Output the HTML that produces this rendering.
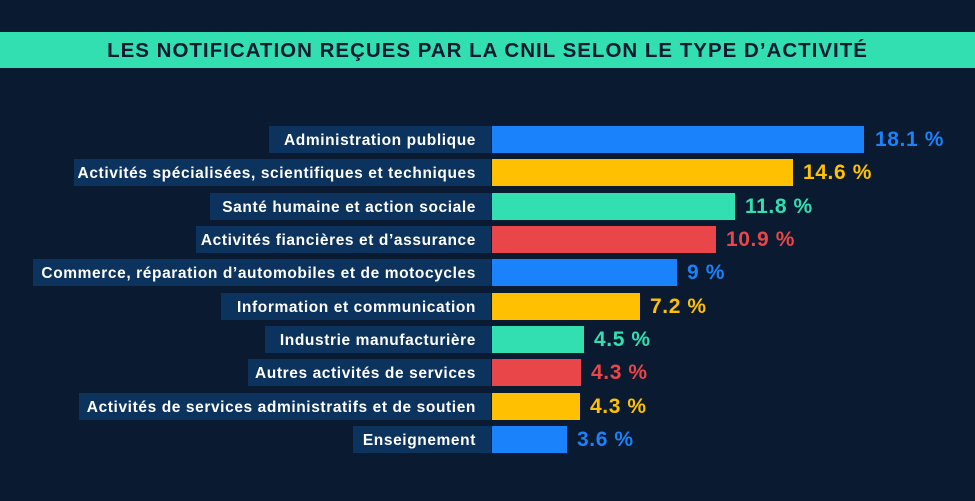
<!DOCTYPE html>
<html><head><meta charset="utf-8"><style>
body{margin:0;width:975px;height:501px;background:#0a1a30;font-family:"Liberation Sans",sans-serif;position:relative;overflow:hidden}
.t{position:absolute;left:0;top:32px;width:975px;height:36px;background:#32dfb0;color:#0a1a30;font-weight:bold;font-size:20.5px;text-align:center;line-height:38px;letter-spacing:1px}
.l{position:absolute;height:27px;background:#0c325e;color:#fff;font-weight:bold;font-size:15.5px;line-height:30px;text-align:right;padding-right:15px;box-sizing:border-box;right:484px;letter-spacing:0.6px;white-space:nowrap}
.b{position:absolute;left:492px;height:27px}
.v{position:absolute;font-weight:bold;font-size:21px;line-height:30px;letter-spacing:0.6px}
</style></head><body>
<div class="t">LES NOTIFICATION REÇUES PAR LA CNIL SELON LE TYPE D’ACTIVITÉ</div>
<div class="l" style="top:126px;left:269px">Administration publique</div><div class="b" style="top:126px;width:372px;background:#1a82fb"></div><div class="v" style="top:125px;left:875px;color:#1a82fb">18.1 %</div>
<div class="l" style="top:159px;left:74px">Activités spécialisées, scientifiques et techniques</div><div class="b" style="top:159px;width:301px;background:#fec000"></div><div class="v" style="top:158px;left:803px;color:#fec000">14.6 %</div>
<div class="l" style="top:193px;left:210px">Santé humaine et action sociale</div><div class="b" style="top:193px;width:243px;background:#32dfb0"></div><div class="v" style="top:192px;left:745px;color:#32dfb0">11.8 %</div>
<div class="l" style="top:226px;left:196px">Activités fiancières et d’assurance</div><div class="b" style="top:226px;width:224px;background:#e84648"></div><div class="v" style="top:225px;left:726px;color:#e84648">10.9 %</div>
<div class="l" style="top:259px;left:33px">Commerce, réparation d’automobiles et de motocycles</div><div class="b" style="top:259px;width:185px;background:#1a82fb"></div><div class="v" style="top:258px;left:687px;color:#1a82fb">9 %</div>
<div class="l" style="top:293px;left:221px">Information et communication</div><div class="b" style="top:293px;width:148px;background:#fec000"></div><div class="v" style="top:292px;left:650px;color:#fec000">7.2 %</div>
<div class="l" style="top:326px;left:265px">Industrie manufacturière</div><div class="b" style="top:326px;width:92px;background:#32dfb0"></div><div class="v" style="top:325px;left:594px;color:#32dfb0">4.5 %</div>
<div class="l" style="top:359px;left:248px">Autres activités de services</div><div class="b" style="top:359px;width:89px;background:#e84648"></div><div class="v" style="top:358px;left:591px;color:#e84648">4.3 %</div>
<div class="l" style="top:393px;left:79px">Activités de services administratifs et de soutien</div><div class="b" style="top:393px;width:88px;background:#fec000"></div><div class="v" style="top:392px;left:590px;color:#fec000">4.3 %</div>
<div class="l" style="top:426px;left:353px">Enseignement</div><div class="b" style="top:426px;width:75px;background:#1a82fb"></div><div class="v" style="top:425px;left:577px;color:#1a82fb">3.6 %</div>
</body></html>
